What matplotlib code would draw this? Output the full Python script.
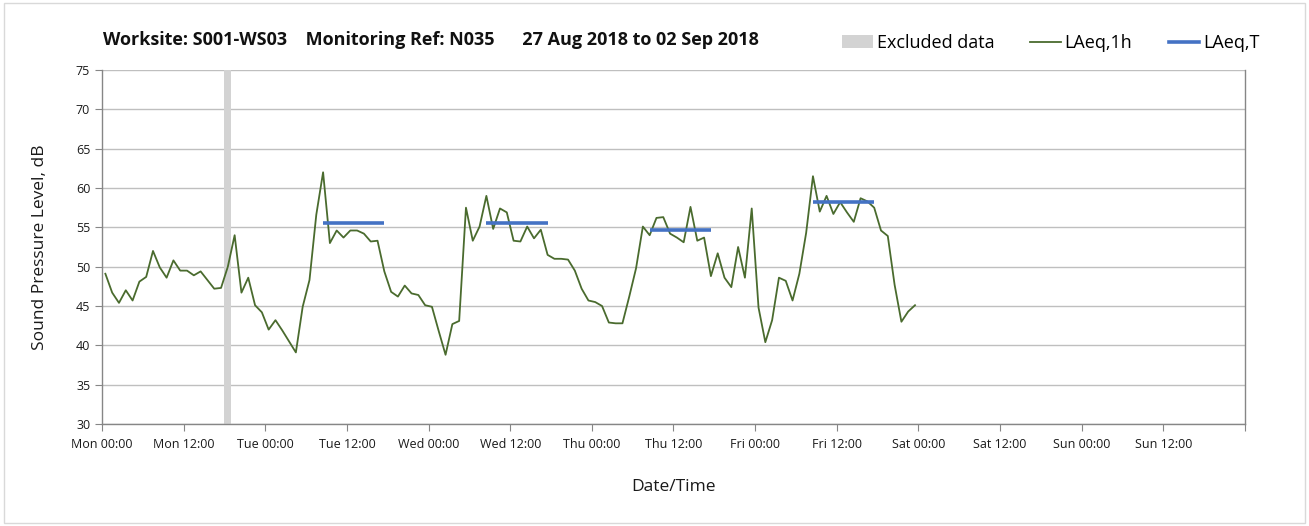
import matplotlib
matplotlib.use("Agg")
import matplotlib.pyplot as plt
from matplotlib.patches import Patch
from matplotlib.lines import Line2D
import numpy as np

plt.rcParams['font.family'] = ['Open Sans', 'DejaVu Sans']

# Hourly LAeq,1h values (Mon 00:00 -> Sat 00:00), plotted at the middle of each hour
laeq_1h = [
    49.1, 46.7, 45.4, 47.0, 45.7, 48.1, 48.7, 52.0, 49.9, 48.6, 50.8, 49.5,
    49.5, 48.9, 49.4, 48.3, 47.2, 47.3, 50.0, 54.0, 46.7, 48.6, 45.1, 44.2,
    42.0, 43.2, 41.9, 40.5, 39.1, 44.9, 48.3, 56.6, 62.0, 53.0, 54.6, 53.7,
    54.6, 54.6, 54.2, 53.2, 53.3, 49.4, 46.8, 46.2, 47.6, 46.6, 46.4, 45.1,
    44.9, 41.8, 38.8, 42.7, 43.1, 57.5, 53.3, 55.1, 59.0, 54.8, 57.4, 56.9,
    53.3, 53.2, 55.1, 53.6, 54.7, 51.5, 51.0, 51.0, 50.9, 49.5, 47.2, 45.7,
    45.5, 45.0, 42.9, 42.8, 42.8, 46.2, 49.8, 55.1, 54.0, 56.2, 56.3, 54.2,
    53.7, 53.1, 57.6, 53.3, 53.7, 48.8, 51.7, 48.6, 47.4, 52.5, 48.6, 57.4,
    44.8, 40.4, 43.2, 48.6, 48.2, 45.7, 49.1, 54.3, 61.5, 57.0, 59.0, 56.7,
    58.2, 56.9, 55.7, 58.7, 58.3, 57.5, 54.6, 53.9, 47.7, 43.0, 44.3, 45.1,
]
hours = np.arange(len(laeq_1h)) + 0.5

# LAeq,T daytime periods (start hour, end hour, level)
laeq_t_start = [32.5, 56.5, 80.5, 104.5]
laeq_t_end = [41.5, 65.5, 89.5, 113.5]
laeq_t_value = [55.6, 55.5, 54.6, 58.2]

# Excluded data period (hours from Mon 00:00)
excluded_start = 18.0
excluded_end = 19.0

tick_labels = ["Mon 00:00", "Mon 12:00", "Tue 00:00", "Tue 12:00", "Wed 00:00",
               "Wed 12:00", "Thu 00:00", "Thu 12:00", "Fri 00:00", "Fri 12:00",
               "Sat 00:00", "Sat 12:00", "Sun 00:00", "Sun 12:00"]

title = "Worksite: S001-WS03    Monitoring Ref: N035      27 Aug 2018 to 02 Sep 2018"

fig = plt.figure(figsize=(13.09, 5.26), dpi=100)
ax = fig.add_axes([0.0779, 0.1939, 0.8732, 0.673])

green = '#4A6B2E'
blue = '#4472C4'

ax.axvspan(excluded_start, excluded_end, color='#D3D3D3', lw=0, zorder=1)
ax.plot(hours, laeq_1h, color=green, lw=1.3, zorder=3)
for s, e, v in zip(laeq_t_start, laeq_t_end, laeq_t_value):
    ax.plot([s, e], [v, v], color=blue, lw=2.6, solid_capstyle='butt', zorder=4)

ax.set_xlim(0, 168)
ax.set_ylim(30, 75)
ax.set_yticks(np.arange(30, 76, 5))
ax.set_xticks(np.arange(0, 169, 12))
ax.set_xticklabels(tick_labels + [""])
ax.set_xticks(np.arange(24, 168, 24), minor=True)

ax.grid(axis='y', which='major', color='#BFBFBF', lw=1.0, zorder=0)
ax.grid(axis='x', which='minor', color='#D9D9D9', lw=1.0, zorder=0)
ax.tick_params(axis='x', which='minor', length=0)
ax.tick_params(axis='both', which='major', direction='out', length=5,
               color='#868686', labelsize=9, labelcolor='#1a1a1a')
ax.tick_params(axis='x', pad=5)
ax.spines['top'].set_visible(False)
for sp in ['left', 'bottom', 'right']:
    ax.spines[sp].set_color('#868686')
    ax.spines[sp].set_linewidth(1.0)
ax.set_axisbelow(True)

ax.set_ylabel("Sound Pressure Level, dB", fontsize=12.5, color='#1a1a1a', labelpad=20)
ax.set_xlabel("Date/Time", fontsize=12.5, color='#1a1a1a', labelpad=20)

fig.text(0.0787, 0.924, title, fontsize=13, fontweight='bold', ha='left', va='center',
         color='#111111')

handles = [Patch(facecolor='#D3D3D3', edgecolor='none'),
           Line2D([0], [0], color=green, lw=1.3),
           Line2D([0], [0], color=blue, lw=2.6)]
labels = ["Excluded data", "LAeq,1h", "LAeq,T"]
fig.legend(handles, labels, loc='center right', bbox_to_anchor=(0.962, 0.918), ncol=3,
           frameon=False, fontsize=13, handlelength=1.7, handletextpad=0.2,
           columnspacing=2.0, borderaxespad=0, borderpad=0)

# chart area border
fig.patches.append(plt.Rectangle((0.003, 0.006), 0.994, 0.988, transform=fig.transFigure,
                                 fill=False, edgecolor='#D9D9D9', lw=1.0))

fig.savefig("out.png", dpi=100)
